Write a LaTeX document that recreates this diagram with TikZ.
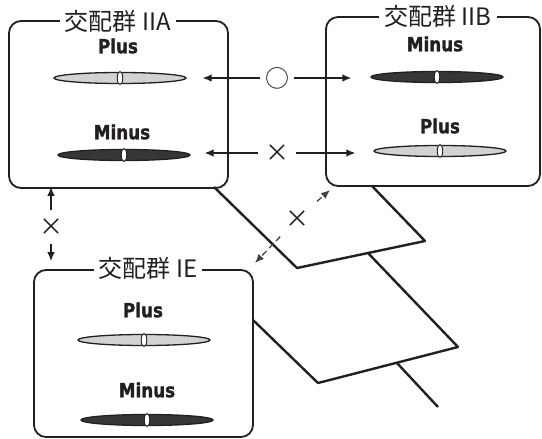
\documentclass[tikz,border=0pt]{standalone}
\usepackage{fontspec}
\newfontfamily\cjk{Noto Sans CJK JP}
\newfontfamily\lab{DejaVu Sans}[FakeStretch=0.86, FakeBold=1.5]
\usetikzlibrary{arrows.meta,shapes.geometric}
\definecolor{ink}{HTML}{231F20}
\definecolor{plusfill}{HTML}{D2D2D2}
\definecolor{minusfill}{HTML}{383536}
\begin{document}
\begin{tikzpicture}[x=1pt,y=-1pt,
  group/.style={draw=ink, line width=1.8pt, rounded corners=12pt, inner sep=0pt},
  grouptitle/.style={fill=white, font=\cjk\fontsize{24}{24}\selectfont, text=ink, inner xsep=5pt, inner ysep=1pt},
  lbl/.style={font=\lab\bfseries\fontsize{19.5}{19.5}\selectfont, text=ink},
  bar/.style={ellipse, draw=ink, line width=1.3pt, minimum width=132pt, minimum height=11pt, inner sep=0pt},
  plusbar/.style={bar, fill=plusfill},
  minusbar/.style={bar, fill=minusfill},
  core/.style={ellipse, draw=ink, fill=white, line width=0.9pt, minimum width=5.5pt, minimum height=13pt, inner sep=0pt},
  sym/.style={text=ink, inner sep=0pt},
  link/.style={-{Latex[length=9pt,width=7.5pt]}, line width=1.3pt, draw=ink},
  dlink/.style={link, draw=ink!85, dash pattern=on 6pt off 4pt},
  branch/.style={draw=ink, line width=2.4pt, line join=round}
]
\useasboundingbox (0,0) rectangle (542,439);

% mating groups
\node[group, minimum width=219pt, minimum height=167pt] (IIA) at (118.5,104.5) {};
\node[group, minimum width=214pt, minimum height=169pt] (IIB) at (433,101.5) {};
\node[group, minimum width=219pt, minimum height=167pt] (IE)  at (143.5,353.5) {};

% branching lines between the groups
\coordinate (p1) at (214,187);
\coordinate (p2) at (297,268);
\coordinate (p3) at (425,241);
\coordinate (p4) at (372,186);
\coordinate (q1) at (368,253);
\coordinate (q2) at (458,347);
\coordinate (q3) at (318,383);
\coordinate (q4) at (253,320);
\coordinate (r1) at (397,363);
\coordinate (r2) at (438,407);
\draw[branch] (p1) -- (p2) -- (p3) -- (p4);
\draw[branch] (q1) -- (q2) -- (q3) -- (q4);
\draw[branch] (r1) -- (r2);

% group titles
\node[grouptitle] (tA) at (118,21) {交配群 IIA};
\node[grouptitle] (tB) at (438,16) {交配群 IIB};
\node[grouptitle] (tE) at (148,268) {交配群 IE};

% group IIA
\node[lbl] (lA1) at (118,46) {Plus};
\node[plusbar] (pA) at (120,78) {};
\node[core] at (pA) {};
\node[lbl] (lA2) at (122,132) {Minus};
\node[minusbar] (mA) at (124,155) {};
\node[core] at (mA) {};

% group IIB
\node[lbl] (lB1) at (435,44) {Minus};
\node[minusbar] (mB) at (437,77) {};
\node[core] at (mB) {};
\node[lbl] (lB2) at (440,126) {Plus};
\node[plusbar] (pB) at (440,151) {};
\node[core] at (pB) {};

% group IE
\node[lbl] (lE1) at (143,310) {Plus};
\node[plusbar] (pE) at (144,340) {};
\node[core] at (pE) {};
\node[lbl] (lE2) at (147,390) {Minus};
\node[minusbar] (mE) at (147,420) {};
\node[core] at (mE) {};

% crossing results
\node[sym, font=\cjk\fontsize{24}{24}\selectfont, inner xsep=5pt] (ok) at (277,78) {○};
\node[sym, font=\cjk\fontsize{24}{24}\selectfont, inner xsep=7pt] (no1) at (277,153) {×};
\node[sym, font=\cjk\fontsize{24}{24}\selectfont, inner ysep=8pt] (no2) at (51,227) {×};
\node[sym, font=\cjk\fontsize{24}{24}\selectfont, inner sep=9pt] (no3) at (297,219) {×};

\coordinate (tipB) at (330,190);
\coordinate (tipE) at (255,263);

\draw[link, shorten >=16pt] (ok) -- (ok -| pA.east);
\draw[link, shorten >=19pt] (ok) -- (ok -| mB.west);
\draw[link, shorten >=14pt] (no1) -- (no1 -| mA.east);
\draw[link, shorten >=18pt] (no1) -- (no1 -| pB.west);
\draw[link, shorten >=-2pt] (no2) -- (no2 |- IIA.south);
\draw[link, shorten >=8pt] (no2) -- (no2 |- IE.north);
\draw[dlink] (no3) -- (tipB);
\draw[dlink] (no3) -- (tipE);
\end{tikzpicture}
\end{document}
